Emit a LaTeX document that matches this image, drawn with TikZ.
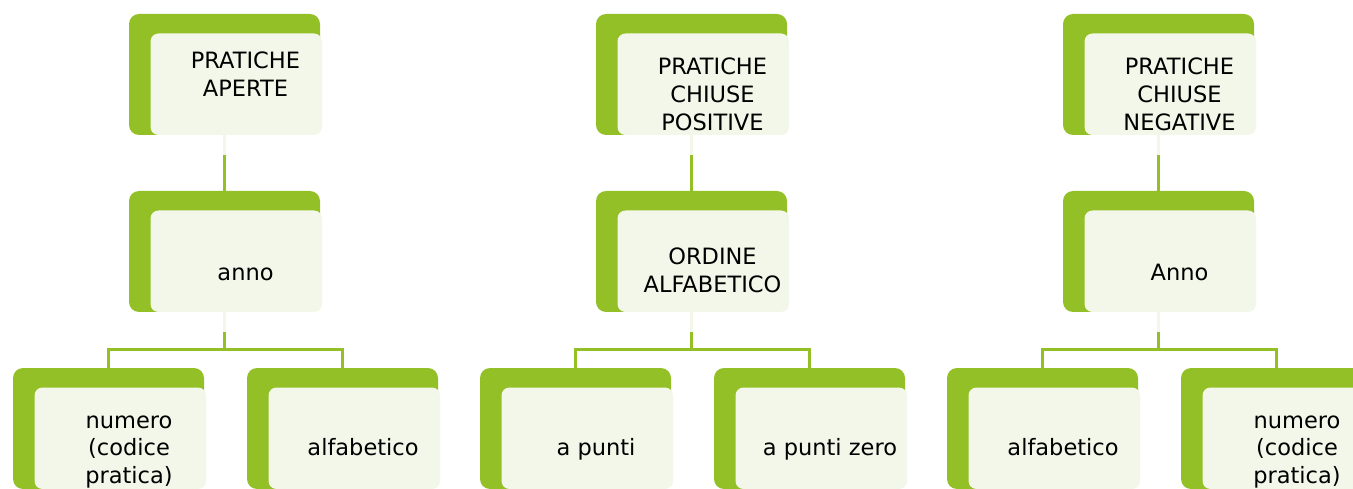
\documentclass[tikz,border=0pt]{standalone}
\usepackage{fontspec}
\setmainfont{DejaVu Sans}
\definecolor{boxgreen}{HTML}{93C026}
\definecolor{boxlight}{HTML}{F2F7E9}
\begin{document}
\begin{tikzpicture}[x=1pt,y=-1pt,
  outerbox/.style={draw=none,fill=boxgreen,rounded corners=10pt,anchor=north west,
    minimum width=191pt,minimum height=121pt,inner sep=0pt,outer sep=0pt},
  innerbox/.style={draw=none,fill=boxlight,rounded corners=8pt,anchor=north west,
    minimum width=171.5pt,minimum height=101.5pt,inner sep=0pt,outer sep=0pt},
  label/.style={anchor=base,inner sep=0pt,align=center,text=black,
    font=\fontsize{22.5}{27.7}\selectfont},
  conn/.style={draw=boxgreen,line width=3.4pt},
  connlight/.style={draw=boxlight,line width=3.6pt}]
\useasboundingbox (0,0) rectangle (1353,489);
\clip (0,0) rectangle (1353,489);
% ---- boxes: top row
\node[outerbox] (a1) at (129,14) {};
\node[innerbox] (a1i) at (150.5,33.5) {};
\node[outerbox] (a2) at (596,14) {};
\node[innerbox] (a2i) at (617.5,33.5) {};
\node[outerbox] (a3) at (1063,14) {};
\node[innerbox] (a3i) at (1084.5,33.5) {};
% ---- middle row
\node[outerbox] (b1) at (129,191) {};
\node[innerbox] (b1i) at (150.5,210.5) {};
\node[outerbox] (b2) at (596,191) {};
\node[innerbox] (b2i) at (617.5,210.5) {};
\node[outerbox] (b3) at (1063,191) {};
\node[innerbox] (b3i) at (1084.5,210.5) {};
% ---- bottom row
\node[outerbox] (c1) at (13,368) {};
\node[innerbox] (c1i) at (34.5,387.5) {};
\node[outerbox] (c2) at (247,368) {};
\node[innerbox] (c2i) at (268.5,387.5) {};
\node[outerbox] (c3) at (480,368) {};
\node[innerbox] (c3i) at (501.5,387.5) {};
\node[outerbox] (c4) at (714,368) {};
\node[innerbox] (c4i) at (735.5,387.5) {};
\node[outerbox] (c5) at (947,368) {};
\node[innerbox] (c5i) at (968.5,387.5) {};
\node[outerbox] (c6) at (1181,368) {};
\node[innerbox] (c6i) at (1202.5,387.5) {};
% ---- connectors
\foreach \i in {1,2,3}{
  \draw[conn] (a\i.south) -- (b\i.north);
  \draw[connlight] (a\i.south) -- ++(0,20);
}
\coordinate (j1) at (224.5,349.5);
\coordinate (j2) at (691.5,349.5);
\coordinate (j3) at (1158.5,349.5);
\draw[conn] (b1.south) -- (j1);
\draw[conn] (j1) -| (c1.north);
\draw[conn] (j1) -| (c2.north);
\draw[conn] (b2.south) -- (j2);
\draw[conn] (j2) -| (c3.north);
\draw[conn] (j2) -| (c4.north);
\draw[conn] (b3.south) -- (j3);
\draw[conn] (j3) -| (c5.north);
\draw[conn] (j3) -| (c6.north);
\foreach \i in {1,2,3}{
  \draw[connlight] (b\i.south) -- ++(0,20);
}
% ---- texts (base = baseline of the last line)
\node[label] (t1) at (245.5,96.2) {PRATICHE\\APERTE};
\node[label] (t2) at (712.5,130.4) {PRATICHE\\CHIUSE\\POSITIVE};
\node[label] (t3) at (1179.5,130.4) {PRATICHE\\CHIUSE\\NEGATIVE};
\node[label] (u1) at (245.5,280) {anno};
\node[label] (u2) at (712.5,292.7) {ORDINE\\ALFABETICO};
\node[label] (u3) at (1179.5,280) {Anno};
\node[label] (v1) at (129,483.4) {numero\\(codice\\pratica)};
\node[label] (v2) at (363,455) {alfabetico};
\node[label] (v3) at (596,455) {a punti};
\node[label] (v4) at (830,455) {a punti zero};
\node[label] (v5) at (1063,455) {alfabetico};
\node[label] (v6) at (1297,483.4) {numero\\(codice\\pratica)};
\end{tikzpicture}
\end{document}
